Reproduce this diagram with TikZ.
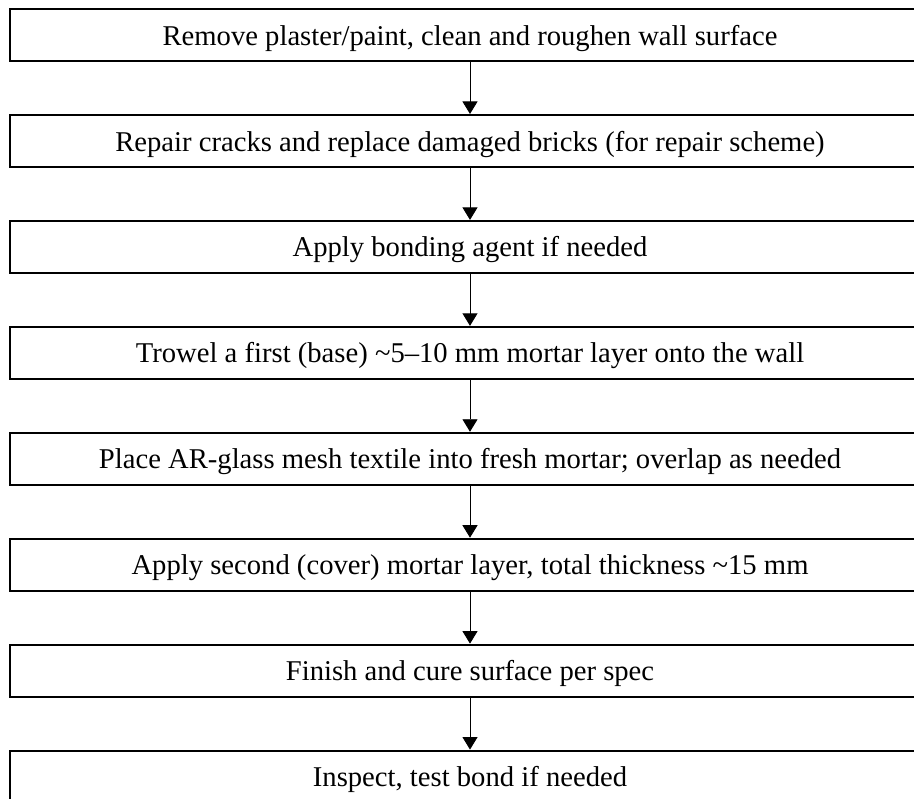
\documentclass[tikz,border=0pt]{standalone}
\usepackage{fontspec}
\setmainfont{Liberation Serif}
\usetikzlibrary{arrows.meta,positioning}
\tikzset{
    flow chart/.style = {>={Triangle[width=3mm,length=2.5mm]},
                         node distance=1.04cm},
    stepbox/.style    = {draw, line width=1.1pt, fill=white,
                         minimum width=18.4cm, minimum height=1.04cm,
                         inner sep=0pt, text height=12.5pt, text depth=1pt,
                         font=\fontsize{16.3}{19}\selectfont},
    flow/.style       = {->, line width=0.5pt}
}

\begin{document}
\begin{tikzpicture}[flow chart]

% ================= Page frame =================
\useasboundingbox (-9.4,0.70) rectangle (8.88,-15.26);

% ================= Steps =================
\node[stepbox] (s1) at (0,0) {Remove plaster/paint, clean and roughen wall surface};
\node[stepbox, below=of s1] (s2) {Repair cracks and replace damaged bricks (for repair scheme)};
\node[stepbox, below=of s2] (s3) {Apply bonding agent if needed};
\node[stepbox, below=of s3] (s4) {Trowel a first (base) \textasciitilde 5--10 mm mortar layer onto the wall};
\node[stepbox, below=of s4] (s5) {Place AR-glass mesh textile into fresh mortar; overlap as needed};
\node[stepbox, below=of s5] (s6) {Apply second (cover) mortar layer, total thickness \textasciitilde 15 mm};
\node[stepbox, below=of s6] (s7) {Finish and cure surface per spec};
\node[stepbox, below=of s7] (s8) {Inspect, test bond if needed};

% ================= Arrows =================
\draw[flow] (s1) -- (s2);
\draw[flow] (s2) -- (s3);
\draw[flow] (s3) -- (s4);
\draw[flow] (s4) -- (s5);
\draw[flow] (s5) -- (s6);
\draw[flow] (s6) -- (s7);
\draw[flow] (s7) -- (s8);

\end{tikzpicture}
\end{document}
